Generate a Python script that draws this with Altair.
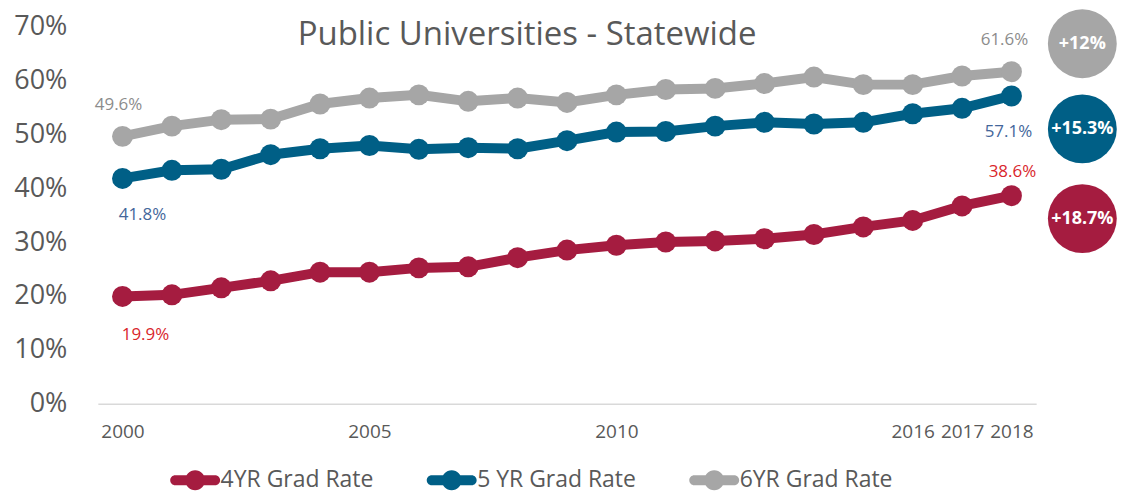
import altair as alt
import pandas as pd

years = list(range(2000, 2019))
rate_4yr = [19.9, 20.2, 21.5, 22.8, 24.4, 24.4, 25.2, 25.4, 27.1, 28.5, 29.4,
            30.0, 30.2, 30.6, 31.4, 32.8, 34.0, 36.7, 38.6]
rate_5yr = [41.8, 43.3, 43.5, 46.2, 47.3, 47.9, 47.2, 47.5, 47.3, 48.8, 50.4,
            50.5, 51.5, 52.2, 51.9, 52.2, 53.8, 54.8, 57.1]
rate_6yr = [49.6, 51.5, 52.7, 52.8, 55.6, 56.7, 57.3, 56.1, 56.7, 55.9, 57.3,
            58.3, 58.5, 59.4, 60.6, 59.2, 59.2, 60.8, 61.6]
series_names = ["4YR Grad Rate", "5 YR Grad Rate", "6YR Grad Rate"]
series_colors = ["#A51C40", "#005F86", "#A6A6A6"]
label_colors = ["#D9262C", "#44679B", "#8C8C8C"]
x_tick_years = [2000, 2005, 2010, 2016, 2017, 2018]
y_ticks = [0, 10, 20, 30, 40, 50, 60, 70]
title_text = "Public Universities - Statewide"

FONT = "Open Sans"
TXT = "#595959"

rows = []
for name, vals in zip(series_names, [rate_4yr, rate_5yr, rate_6yr]):
    for y, v in zip(years, vals):
        rows.append({"year": y, "rate": v, "series": name,
                     "label": f"{v:.1f}%"})
df = pd.DataFrame(rows)

badge_rows = []
for name, vals in zip(series_names, [rate_4yr, rate_5yr, rate_6yr]):
    ch = round(vals[-1] - vals[0], 1)
    txt = f"+{ch:g}%"
    badge_rows.append({"year": years[-1], "rate": vals[-1], "series": name, "change": txt})
badges = pd.DataFrame(badge_rows)

x_enc = alt.X("year:Q", scale=alt.Scale(domain=[1999.5, 2018.5], nice=False, zero=False),
              axis=alt.Axis(values=x_tick_years, format="d", title=None, ticks=False, grid=False,
                            labelFontSize=19, labelColor=TXT, labelFont=FONT, labelPadding=19,
                            domainColor="#D9D9D9", domainWidth=1.5, labelFlush=False))
y_enc = alt.Y("rate:Q", scale=alt.Scale(domain=[0, 70], nice=False),
              axis=alt.Axis(values=y_ticks, labelExpr="datum.value + '%'", title=None,
                            ticks=False, grid=False, domain=False, labelFontSize=27,
                            labelColor=TXT, labelFont=FONT, labelPadding=31))
color_scale = alt.Scale(domain=series_names, range=series_colors)

legend_path = ("M-2.0,-0.5 L2.0,-0.5 A0.5,0.5 0 0,1 2.0,0.5 L-2.0,0.5 "
               "A0.5,0.5 0 0,1 -2.0,-0.5 Z M1,0 A1,1 0 1,1 -1,0 A1,1 0 1,1 1,0 Z")
legend = alt.Legend(orient="none", legendX=86, legendY=443,
                    direction="horizontal", title=None,
                    symbolType=legend_path, symbolSize=400,
                    symbolStrokeWidth=0, symbolOpacity=1,
                    labelFontSize=23, labelFont=FONT, labelColor=TXT,
                    labelOffset=14, columnPadding=52, padding=0)

base = alt.Chart(df)

lines = base.mark_line(strokeWidth=10).encode(
    x=x_enc, y=y_enc,
    color=alt.Color("series:N", scale=color_scale, legend=legend),
    detail="series:N",
)

points = base.mark_circle(size=441, opacity=1).encode(
    x="year:Q", y="rate:Q",
    color=alt.Color("series:N", scale=color_scale, legend=legend),
)

# end-point data labels (offsets are styling)
label_offsets = {
    ("4YR Grad Rate", 2000): (23, 39), ("4YR Grad Rate", 2018): (1, -24),
    ("5 YR Grad Rate", 2000): (20, 37), ("5 YR Grad Rate", 2018): (-3, 36),
    ("6YR Grad Rate", 2000): (-4, -31), ("6YR Grad Rate", 2018): (-7, -32),
}
text_layers = []
for (name, yr), (dx, dy) in label_offsets.items():
    col = label_colors[series_names.index(name)]
    text_layers.append(
        base.transform_filter(
            (alt.datum.series == name) & (alt.datum.year == yr)
        ).mark_text(dx=dx, dy=dy, fontSize=17, font=FONT, color=col).encode(
            x="year:Q", y="rate:Q", text="label:N")
    )

badge_offsets = {"4YR Grad Rate": 23, "5 YR Grad Rate": 33, "6YR Grad Rate": -28}
badge_layers = []
for name, dy in badge_offsets.items():
    col = series_colors[series_names.index(name)]
    b = alt.Chart(badges).transform_filter(alt.datum.series == name)
    badge_layers.append(
        b.mark_circle(size=4760, opacity=1, color=col, xOffset=71, yOffset=dy).encode(
            x="year:Q", y="rate:Q"))
    badge_layers.append(
        b.mark_text(color="white", fontWeight="bold", fontSize=18, font=FONT,
                    xOffset=71, yOffset=dy).encode(
            x="year:Q", y="rate:Q", text="change:N"))

chart = alt.layer(lines, points, *text_layers, *badge_layers).properties(
    width=940, height=378,
    padding={"left": 5, "top": 0, "right": 0, "bottom": 0},
    title=alt.TitleParams(title_text, fontSize=33, font=FONT, fontWeight="normal",
                          color=TXT, anchor="middle", dx=-40, offset=-43),
).configure_view(stroke=None)

chart.save("out.html", embed_options={"renderer": "svg", "actions": False})
